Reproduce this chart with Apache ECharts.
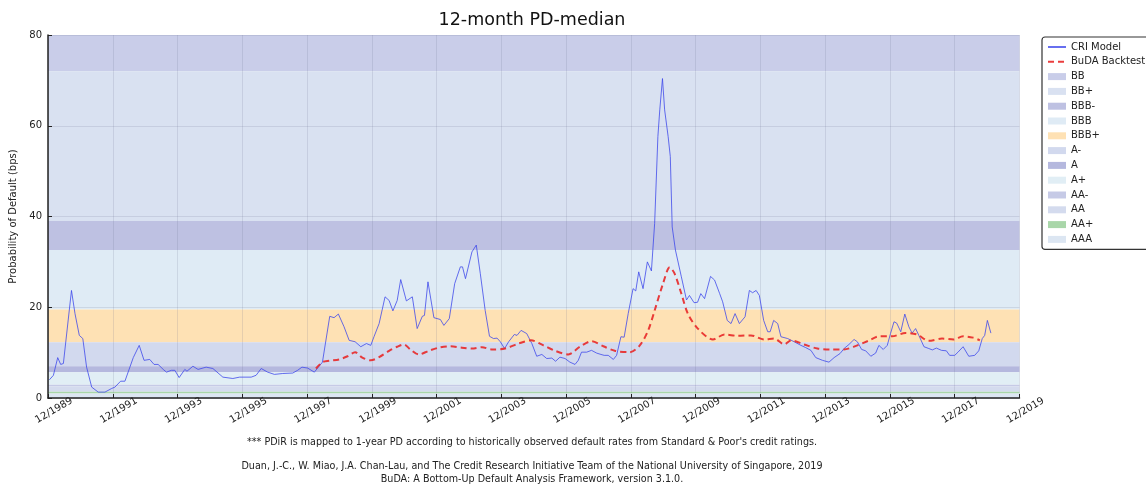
<!DOCTYPE html>
<html>
<head>
<meta charset="utf-8">
<script src="https://cdn.jsdelivr.net/npm/echarts@6/dist/echarts.min.js"></script>
<style>
  html, body { margin: 0; padding: 0; background: #fff; }
  #main { width: 1146px; height: 487px; }
</style>
</head>
<body>
<div id="main"></div>
<script>
// x values are months counted from 12/1989
const criMonths = [0.5, 2, 3.6, 4.7, 5.7, 8.7, 10, 11.6, 12.9, 14.3, 16.2, 18.6, 21.1, 23.6, 24.8, 26.9, 28.5, 31.6, 33.8, 35.6,
  37.7, 39.3, 40.8, 42.7, 43.9, 45.7, 47, 48.6, 50.7, 51.5, 53.7, 55.6, 58.6, 61.1, 64.8, 68.5, 71, 75.3, 77.1, 79,
  81.4, 83.9, 87, 90.7, 92.5, 94.1, 96.2, 98.7, 101.7, 104.4, 106, 107.6, 109.7, 111.6, 113.8, 115.9, 118, 119.6, 120.8, 122.7,
  124.9, 126.4, 127.8, 129.4, 130.7, 132.8, 135, 136.8, 138.7, 139.5, 140.8, 143, 145.4, 146.7, 148.7, 150.7, 152.8, 153.6, 154.7, 157.1,
  158.7, 160.2, 162, 163.6, 165.1, 166.4, 167.6, 169.2, 170.7, 172.8, 173.8, 175.3, 177.4, 179.3, 181.1, 183, 184.8, 186.7, 188.1, 189.7,
  191.6, 193.4, 195.3, 196.5, 197.7, 199.6, 201.4, 203.3, 204.9, 206.1, 207.6, 209.5, 210.7, 212.3, 213.5, 215, 216.8, 217.8, 218.9, 220.5,
  222.1, 223.6, 224.8, 226, 226.7, 227.7, 228.5, 229.8, 230.6, 231.3, 232.5, 234.7, 236.6, 237.7, 239.4, 240.7, 241.9, 243.3, 245.5, 247,
  248.9, 250, 251.7, 253.1, 254.6, 256.2, 258.3, 259.9, 261.1, 262.4, 263.6, 265.2, 266.7, 267.6, 268.9, 270.4, 271.6, 274.1, 276.5, 279,
  280.8, 282.7, 284.5, 287, 289.4, 291.3, 293.5, 295, 296.8, 298.7, 299.9, 301.5, 303, 304.9, 306.7, 307.9, 309.5, 311, 312.2, 313.5,
  314.5, 316, 317.5, 319, 320.2, 321.5, 322.7, 324.6, 326.4, 327.7, 329.2, 331.1, 332.9, 334.1, 336, 337.2, 339.1, 341.2, 343.4, 344.9,
  346.2, 347.1, 348.1, 349.4];
const criValues = [4.0, 5.0, 8.9, 7.4, 7.6, 23.7, 18.6, 13.8, 13.1, 6.8, 2.4, 1.3, 1.3, 2.1, 2.4, 3.7, 3.7, 8.9, 11.6, 8.3,
  8.5, 7.4, 7.4, 6.3, 5.7, 6.1, 6.1, 4.5, 6.3, 5.9, 7.0, 6.3, 6.8, 6.5, 4.6, 4.3, 4.6, 4.6, 5.0, 6.5,
  5.7, 5.2, 5.4, 5.5, 6.1, 6.8, 6.6, 5.7, 7.9, 18.0, 17.7, 18.5, 15.7, 12.7, 12.4, 11.3, 12.0, 11.6, 13.5, 16.4,
  22.3, 21.5, 19.2, 21.5, 26.1, 21.4, 22.3, 15.3, 18.0, 18.2, 25.6, 17.7, 17.3, 16.0, 17.5, 25.2, 28.9, 28.9, 26.3, 32.2,
  33.7, 27.4, 19.3, 13.6, 13.1, 13.2, 12.4, 10.9, 12.4, 14.0, 13.8, 14.9, 14.2, 12.0, 9.2, 9.6, 8.7, 8.8, 8.1, 9.0,
  8.7, 7.9, 7.4, 8.3, 10.1, 10.1, 10.5, 9.9, 9.6, 9.4, 9.4, 8.5, 9.4, 13.5, 13.4, 18.6, 24.1, 23.6, 27.8, 24.1,
  30.0, 28.0, 38.5, 57.6, 63.5, 70.4, 63.5, 57.6, 53.2, 37.7, 32.6, 26.7, 21.6, 22.6, 21.0, 21.1, 23.0, 21.9, 26.8, 26.0,
  23.0, 21.2, 17.1, 16.4, 18.6, 16.4, 17.9, 23.7, 23.2, 23.7, 22.6, 17.1, 14.6, 14.6, 17.1, 16.4, 13.5, 13.1, 12.4, 11.6,
  11.1, 10.5, 8.9, 8.3, 7.9, 8.9, 9.8, 10.9, 11.8, 12.9, 12.4, 10.7, 10.4, 9.2, 9.9, 11.6, 10.7, 11.6, 14.2, 16.8,
  16.5, 14.6, 18.5, 15.7, 14.3, 15.3, 13.8, 11.3, 10.9, 10.6, 11.0, 10.5, 10.4, 9.4, 9.4, 10.1, 11.3, 9.2, 9.4, 10.4,
  13.1, 13.8, 17.1, 14.3];

const budaMonths = [99.3, 101.7, 104.2, 107.9, 111, 113.8, 116.5, 119.6, 122.7, 126.4, 129.4, 131.9, 134.3, 137.4, 141.1, 144.8, 149.1, 153.4, 157.1, 160.8,
  164.4, 169.4, 174.4, 179, 183.6, 187.9, 192.8, 197.1, 201.4, 205.8, 210, 215.6, 219.3, 222.4, 224.8, 227.9, 230.4, 232.2, 234.7, 237.1,
  240.8, 246.4, 250.7, 255.6, 260.5, 265.4, 269.1, 272.8, 275.3, 280.2, 285.1, 290, 294.9, 299.9, 304, 308, 312.8, 317.7, 322, 326.4,
  331.3, 335.6, 339.1, 342.8, 345.3];
const budaValues = [6.5, 7.9, 8.2, 8.5, 9.2, 10.1, 8.9, 8.3, 9.0, 10.4, 11.3, 11.8, 10.7, 9.6, 10.4, 11.1, 11.4, 11.1, 10.9, 11.2,
  10.7, 10.9, 12.0, 12.7, 11.6, 10.4, 9.6, 11.3, 12.5, 11.4, 10.4, 10.1, 11.6, 14.9, 19.3, 25.2, 28.8, 27.4, 23.0, 18.6,
  15.3, 12.9, 14.0, 13.7, 13.8, 12.9, 13.1, 11.8, 12.7, 11.8, 10.9, 10.7, 10.7, 11.6, 12.6, 13.6, 13.6, 14.3, 14.0, 12.6,
  13.1, 12.9, 13.6, 13.3, 12.7];

// rating bands (bps), listed top to bottom as in the legend
const bandNames = ['BB', 'BB+', 'BBB-', 'BBB', 'BBB+', 'A-', 'A', 'A+', 'AA-', 'AA', 'AA+', 'AAA'];
const bandLow  = [72, 39, 32.6, 19.5, 12.3, 7.0, 5.7, 2.9, 2.6, 1.4, 1.0, 0];
const bandHigh = [80, 72, 39, 32.6, 19.5, 12.3, 7.0, 5.7, 2.9, 2.6, 1.4, 1.0];
const bandColors = ['#c9cde9', '#d9e1f1', '#bec1e2', '#dfebf5', '#fee1b4', '#d2d9ee', '#b5b8de', '#e1eef5', '#c6cae6', '#d4dbee', '#a9d6a9', '#dce6f2'];

const xTicks = ['12/1989', '12/1991', '12/1993', '12/1995', '12/1997', '12/1999', '12/2001', '12/2003',
  '12/2005', '12/2007', '12/2009', '12/2011', '12/2013', '12/2015', '12/2017', '12/2019'];

const font = 'DejaVu Sans, sans-serif';
const chart = echarts.init(document.getElementById('main'));

const series = [];
bandNames.forEach((name, i) => {
  series.push({
    name: name,
    type: 'line',
    z: 1,
    data: [],
    itemStyle: { color: bandColors[i] },
    markArea: {
      silent: true,
      itemStyle: { color: bandColors[i], opacity: 1 },
      data: [[{ yAxis: bandLow[i] }, { yAxis: bandHigh[i] }]]
    }
  });
});
series.push({
  name: 'CRI Model',
  type: 'line',
  z: 5,
  showSymbol: false,
  symbol: 'none',
  data: criMonths.map((m, i) => [m, criValues[i]]),
  itemStyle: { color: '#4b55e6' },
  lineStyle: { color: 'rgba(60,70,235,0.78)', width: 1 }
});
series.push({
  name: 'BuDA Backtest',
  type: 'line',
  z: 6,
  showSymbol: false,
  symbol: 'none',
  smooth: 0.3,
  data: budaMonths.map((m, i) => [m, budaValues[i]]),
  itemStyle: { color: '#e8302f' },
  lineStyle: { color: 'rgba(232,40,40,0.9)', width: 2, type: [6, 4] }
});

const legendData = [
  { name: 'CRI Model', itemStyle: { opacity: 0 } },
  { name: 'BuDA Backtest', itemStyle: { opacity: 0 } }
].concat(bandNames.map(n => ({ name: n, icon: 'rect' })));

const gridLine = { show: true, lineStyle: { color: 'rgba(100,105,135,0.16)', width: 1 } };

chart.setOption({
  animation: false,
  textStyle: { fontFamily: font },
  title: {
    text: '12-month PD-median',
    left: 527,
    top: 6,
    textAlign: 'center',
    textStyle: { fontFamily: font, fontSize: 17.5, fontWeight: 'normal', color: '#111' }
  },
  legend: {
    orient: 'vertical',
    left: 1042,
    top: 37,
    padding: [4, 6, 4, 5],
    itemWidth: 18,
    itemHeight: 7,
    itemGap: 2.8,
    backgroundColor: '#fff',
    borderColor: '#333',
    borderWidth: 1.2,
    borderRadius: 3,
    selectedMode: false,
    textStyle: { fontFamily: font, fontSize: 10, color: '#222', lineHeight: 12 },
    data: legendData
  },
  grid: { left: 44, right: 126.5, top: 35, bottom: 89 },
  xAxis: {
    type: 'value',
    z: 3,
    min: 0,
    max: 360,
    interval: 24,
    axisLine: { lineStyle: { color: '#222', width: 1.5 } },
    axisTick: { inside: true, length: 4, lineStyle: { color: '#222' } },
    axisLabel: {
      rotate: 30,
      align: 'center',
      verticalAlign: 'middle',
      margin: 16,
      padding: [0, 0, 0, 14],
      fontSize: 10,
      color: '#222',
      fontFamily: font,
      formatter: v => xTicks[Math.round(v / 24)]
    },
    splitLine: gridLine
  },
  yAxis: {
    type: 'value',
    z: 3,
    min: 0,
    max: 80,
    interval: 20,
    name: 'Probability of Default (bps)',
    nameLocation: 'middle',
    nameGap: 30,
    nameTextStyle: { fontFamily: font, fontSize: 10, color: '#222' },
    axisLine: { show: true, lineStyle: { color: '#222', width: 1.5 } },
    axisTick: { show: true, inside: true, length: 4, lineStyle: { color: '#222' } },
    axisLabel: { fontSize: 10, color: '#222', fontFamily: font, margin: 6 },
    splitLine: gridLine
  },
  graphic: [
    {
      type: 'text', x: 532, y: 437, z: 10,
      style: { text: "*** PDiR is mapped to 1-year PD according to historically observed default rates from Standard & Poor's credit ratings.", fontFamily: font, fontSize: 9.6, fill: '#222', align: 'center' }
    },
    {
      type: 'text', x: 532, y: 461, z: 10,
      style: { text: 'Duan, J.-C., W. Miao, J.A. Chan-Lau, and The Credit Research Initiative Team of the National University of Singapore, 2019', fontFamily: font, fontSize: 9.6, fill: '#222', align: 'center' }
    },
    {
      type: 'text', x: 532, y: 474, z: 10,
      style: { text: 'BuDA: A Bottom-Up Default Analysis Framework, version 3.1.0.', fontFamily: font, fontSize: 9.6, fill: '#222', align: 'center' }
    }
  ],
  series: series
});
</script>
</body>
</html>
